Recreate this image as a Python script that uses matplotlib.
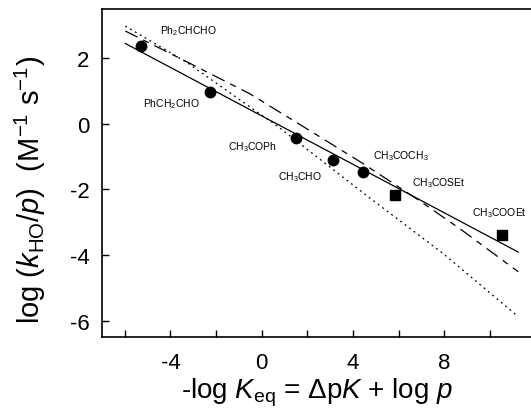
import matplotlib
matplotlib.use("Agg")
import matplotlib.pyplot as plt

plt.rcParams['font.family'] = ['Liberation Sans', 'DejaVu Sans']
plt.rcParams['mathtext.fontset'] = 'custom'
plt.rcParams['mathtext.rm'] = 'Liberation Sans'
plt.rcParams['mathtext.it'] = 'Liberation Sans:italic'
plt.rcParams['axes.unicode_minus'] = False

# circles (aldehydes / ketones)
circ_x = [-5.29, -2.26, 1.51, 3.14, 4.45]
circ_y = [2.37, 0.98, -0.42, -1.09, -1.46]
# squares (thioester / ester)
sq_x = [5.85, 10.52]
sq_y = [-2.18, -3.38]

labels = ["Ph$_2$CHCHO", "PhCH$_2$CHO", "CH$_3$COPh", "CH$_3$CHO",
          "CH$_3$COCH$_3$", "CH$_3$COSEt", "CH$_3$COOEt"]
label_x = [-4.45, -5.2, -1.47, 0.72, 4.88, 6.57, 9.19]
label_y = [2.85, 0.63, -0.67, -1.59, -0.95, -1.77, -2.68]

# lines
solid_x = [-5.98, 11.23]
solid_y = [2.45, -3.91]
dash_x = [-5.98, -3.28, -0.51, 2.34, 4.45, 6.79, 8.68, 11.23]
dash_y = [2.83, 1.89, 0.91, -0.31, -1.22, -2.29, -3.20, -4.51]
dot_x = [-5.98, -3.28, -0.65, 0.66, 4.67, 7.95, 11.23]
dot_y = [2.98, 1.87, 0.58, -0.06, -2.23, -3.96, -5.88]

xticks = [-6, -4, -2, 0, 2, 4, 6, 8, 10]
xticklabels = ["", "-4", "", "0", "", "4", "", "8", ""]
yticks = [-6, -4, -2, 0, 2]

fig = plt.figure(figsize=(5.31, 4.10), dpi=100)
ax = fig.add_axes([0.192, 0.1756, 0.808, 0.80])

ax.plot(solid_x, solid_y, color='black', lw=0.9)
ax.plot(dash_x, dash_y, color='black', lw=0.9, dashes=(11, 5, 5, 5))
ax.plot(dot_x, dot_y, color='black', lw=0.9, dashes=(1.5, 3))

ax.plot(circ_x, circ_y, 'o', color='black', ms=7.5)
ax.plot(sq_x, sq_y, 's', color='black', ms=7)

for t, x, y in zip(labels, label_x, label_y):
    ax.text(x, y, t, fontsize=7.5, ha='left', va='center')

ax.set_xlim(-7, 11.79)
ax.set_ylim(-6.5, 3.5)
ax.set_xticks(xticks)
ax.set_xticklabels(xticklabels)
ax.set_yticks(yticks)
ax.tick_params(direction='in', length=5, width=1, labelsize=16)
ax.tick_params(axis='y', pad=9)
ax.tick_params(axis='x', pad=11)
ax.spines['right'].set_visible(False)
for s in ['left', 'top', 'bottom']:
    ax.spines[s].set_linewidth(1.2)

ax.set_xlabel(r"-log $K_{\mathrm{eq}}$ = Δp$K$ + log $p$", fontsize=20, labelpad=2)
ax.set_ylabel(r"log ($k_{\mathrm{HO}}$/$p$)  (M$^{\mathrm{-1}}$ s$^{\mathrm{-1}}$)",
              fontsize=21)
ax.yaxis.set_label_coords(-0.125, 0.45)

fig.savefig("out.png", dpi=100)
